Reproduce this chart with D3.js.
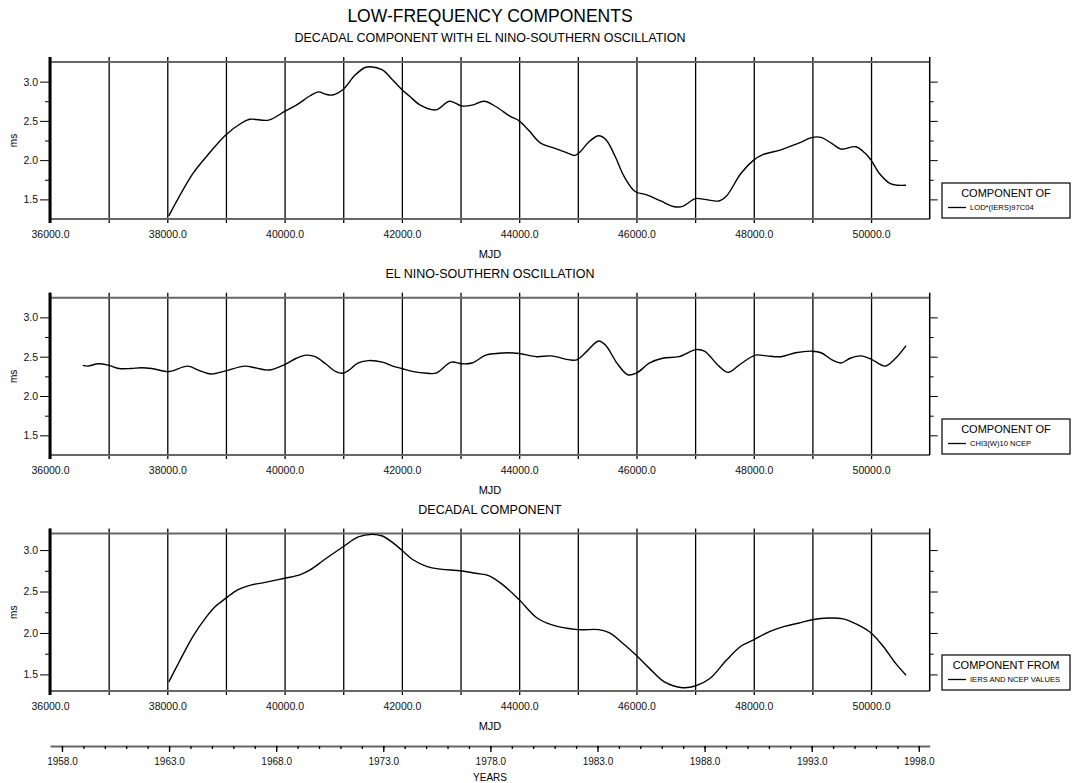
<!DOCTYPE html>
<html>
<head>
<meta charset="utf-8">
<script src="https://cdn.jsdelivr.net/npm/d3@7"></script>
<style>
  body { margin: 0; background: #fff; }
  svg { font-family: "Liberation Sans", Arial, sans-serif; }
  .tick text { fill: #111; }
</style>
</head>
<body>
<svg id="chart" width="1072" height="783"></svg>
<script>
// LOD*(IERS)97C04 : decadal + ENSO
var lodMjd = [38026, 38438, 38673, 38996, 39260, 39407, 39730, 40000, 40200, 40435,
  40581, 40699, 40816, 40998, 41198, 41374, 41462, 41668, 41844, 41997,
  42138, 42314, 42579, 42814, 43020, 43196, 43401, 43607, 43842, 44000,
  44174, 44361, 44609, 44827, 44951, 45045, 45200, 45355, 45480, 45635,
  45791, 45977, 46164, 46413, 46630, 46786, 47003, 47158, 47407, 47532,
  47780, 47998, 48154, 48464, 48775, 48999, 49148, 49335, 49490, 49739,
  49895, 50000, 50143, 50330, 50454, 50597];
var lodMs = [1.29, 1.83, 2.05, 2.32, 2.47, 2.52, 2.51, 2.62, 2.70, 2.82,
  2.87, 2.84, 2.83, 2.90, 3.08, 3.18, 3.19, 3.15, 3.02, 2.90,
  2.81, 2.70, 2.64, 2.75, 2.69, 2.70, 2.75, 2.68, 2.56, 2.50,
  2.37, 2.22, 2.15, 2.09, 2.06, 2.11, 2.24, 2.31, 2.26, 2.05,
  1.79, 1.60, 1.56, 1.48, 1.41, 1.41, 1.51, 1.50, 1.48, 1.54,
  1.83, 2.00, 2.07, 2.13, 2.22, 2.29, 2.29, 2.21, 2.14, 2.17,
  2.09, 2.00, 1.83, 1.70, 1.68, 1.68];

// CHI3(W)10 NCEP : El Nino-Southern Oscillation
var ensoMjd = [36558, 36646, 36822, 37004, 37175, 37380, 37557, 37733, 38003, 38085,
  38350, 38526, 38743, 38996, 39319, 39495, 39730, 40000, 40200, 40376,
  40523, 40699, 40875, 40998, 41081, 41257, 41433, 41668, 41844, 41997,
  42197, 42432, 42579, 42843, 43020, 43196, 43431, 43607, 43812, 44000,
  44298, 44547, 44858, 44982, 45169, 45355, 45480, 45666, 45853, 45996,
  46226, 46444, 46723, 47016, 47158, 47407, 47563, 47780, 48029, 48215,
  48464, 48713, 48999, 49148, 49335, 49490, 49646, 49832, 50000, 50236,
  50392, 50597];
var ensoMs = [2.39, 2.38, 2.41, 2.39, 2.35, 2.35, 2.36, 2.35, 2.31, 2.32,
  2.38, 2.33, 2.28, 2.32, 2.38, 2.36, 2.33, 2.40, 2.48, 2.52,
  2.50, 2.41, 2.31, 2.29, 2.32, 2.42, 2.45, 2.43, 2.38, 2.35,
  2.31, 2.29, 2.29, 2.43, 2.41, 2.42, 2.52, 2.54, 2.55, 2.54,
  2.50, 2.51, 2.46, 2.46, 2.58, 2.70, 2.64, 2.42, 2.27, 2.29,
  2.42, 2.48, 2.50, 2.59, 2.57, 2.38, 2.30, 2.41, 2.52, 2.51,
  2.50, 2.55, 2.57, 2.55, 2.46, 2.42, 2.48, 2.51, 2.47, 2.38,
  2.46, 2.64];

// decadal component from IERS and NCEP values
var decMjd = [38026, 38202, 38438, 38673, 38819, 39001, 39200, 39436, 39670, 40000,
  40259, 40435, 40670, 40998, 41257, 41492, 41668, 41844, 41997, 42197,
  42432, 42667, 43002, 43254, 43489, 43724, 44000, 44305, 44547, 44995,
  45355, 45542, 45791, 45996, 46226, 46475, 46786, 47003, 47252, 47532,
  47780, 48004, 48278, 48526, 48775, 48999, 49272, 49521, 49770, 50000,
  50205, 50423, 50597];
var decMs = [1.41, 1.65, 1.96, 2.20, 2.32, 2.42, 2.52, 2.58, 2.61, 2.66,
  2.70, 2.76, 2.88, 3.04, 3.16, 3.19, 3.17, 3.09, 3.00, 2.88,
  2.80, 2.77, 2.75, 2.72, 2.69, 2.58, 2.40, 2.18, 2.10, 2.04,
  2.04, 2.00, 1.86, 1.73, 1.57, 1.41, 1.34, 1.36, 1.45, 1.67,
  1.84, 1.92, 2.02, 2.08, 2.12, 2.16, 2.18, 2.17, 2.10, 2.00,
  1.84, 1.63, 1.49];

var panelTitles = ["DECADAL COMPONENT WITH EL NINO-SOUTHERN OSCILLATION",
  "EL NINO-SOUTHERN OSCILLATION", "DECADAL COMPONENT"];
var legendTitles = ["COMPONENT OF", "COMPONENT OF", "COMPONENT FROM"];
var legendLabels = ["LOD*(IERS)97C04", "CHI3(W)10 NCEP", "IERS AND NCEP VALUES"];
var mjdTicks = d3.range(36000, 51000, 1000);
var msMajor = [1.5, 2.0, 2.5, 3.0];
var msMinor = [1.75, 2.25, 2.75];
var yearMajor = d3.range(1958, 1999, 5);
var yearMinor = d3.range(1958, 1999, 1);

var X0 = 50, X1 = 929.7;
var svg = d3.select("#chart");

var x = d3.scaleLinear().domain([36000, 51000]).range([X0, X1]);

var panels = [
  {top: 62, bottom: 219, dom: [1.25, 3.25], mjd: lodMjd, ms: lodMs},
  {top: 297.7, bottom: 455, dom: [1.25, 3.25], mjd: ensoMjd, ms: ensoMs},
  {top: 533.5, bottom: 691, dom: [1.3, 3.2], mjd: decMjd, ms: decMs}
];

svg.append("text")
    .attr("x", 490).attr("y", 21.5)
    .attr("text-anchor", "middle")
    .style("font-size", "17.5px")
    .text("LOW-FREQUENCY COMPONENTS");

panels.forEach(function(p, i) {
  var y = d3.scaleLinear().domain(p.dom).range([p.bottom, p.top]);
  var h = p.bottom - p.top;
  var g = svg.append("g");

  g.append("text")
      .attr("x", 490).attr("y", p.top - 20)
      .attr("text-anchor", "middle")
      .style("font-size", "12.5px")
      .text(panelTitles[i]);

  // vertical grid lines at every 1000 MJD
  var grid = g.append("g")
      .attr("transform", "translate(0," + p.bottom + ")")
      .call(d3.axisBottom(x).tickValues(mjdTicks).tickSize(-(h + 5)).tickFormat(""));
  grid.select(".domain").remove();
  grid.selectAll("line").attr("stroke", "#000").attr("stroke-width", 1.3);

  // bottom ticks + labels
  var xa = g.append("g")
      .attr("transform", "translate(0," + p.bottom + ")")
      .call(d3.axisBottom(x).tickValues(mjdTicks).tickSize(4).tickPadding(8)
        .tickFormat(function(d) { return d % 2000 === 0 ? d3.format(".1f")(d) : ""; }));
  xa.select(".domain").remove();
  xa.selectAll("line").attr("stroke-width", 1.3);
  xa.selectAll("text").style("font-size", "10.5px").style("font-family", "Liberation Sans, Arial, sans-serif");

  // top and bottom borders
  g.append("line").attr("x1", X0).attr("x2", X1).attr("y1", p.top).attr("y2", p.top)
      .attr("stroke", "#666").attr("stroke-width", 2);
  g.append("line").attr("x1", X0).attr("x2", X1).attr("y1", p.bottom).attr("y2", p.bottom)
      .attr("stroke", "#666").attr("stroke-width", 2);

  // left axis
  var la = g.append("g")
      .attr("transform", "translate(" + X0 + ",0)")
      .call(d3.axisLeft(y).tickValues(msMajor).tickSize(10).tickPadding(2).tickFormat(d3.format(".1f")));
  la.select(".domain").remove();
  la.selectAll("text").style("font-size", "10.5px").style("font-family", "Liberation Sans, Arial, sans-serif");
  var lm = g.append("g")
      .attr("transform", "translate(" + X0 + ",0)")
      .call(d3.axisLeft(y).tickValues(msMinor).tickSize(5).tickFormat(""));
  lm.select(".domain").remove();
  g.append("line").attr("x1", X0).attr("x2", X0).attr("y1", p.top - 5).attr("y2", p.bottom + 4)
      .attr("stroke", "#000").attr("stroke-width", 3);

  // right axis
  var ra = g.append("g")
      .attr("transform", "translate(" + X1 + ",0)")
      .call(d3.axisRight(y).tickValues(msMajor).tickSize(8).tickFormat(""));
  ra.select(".domain").remove();
  var rm = g.append("g")
      .attr("transform", "translate(" + X1 + ",0)")
      .call(d3.axisRight(y).tickValues(msMinor).tickSize(4).tickFormat(""));
  rm.select(".domain").remove();
  g.append("line").attr("x1", X1).attr("x2", X1).attr("y1", p.top - 5).attr("y2", p.bottom)
      .attr("stroke", "#000").attr("stroke-width", 1.5);

  g.append("text")
      .attr("transform", "translate(17," + (p.top + h / 2) + ") rotate(-90)")
      .attr("text-anchor", "middle")
      .style("font-size", "10px")
      .text("ms");

  g.append("text")
      .attr("x", 490).attr("y", p.bottom + 38.5)
      .attr("text-anchor", "middle")
      .style("font-size", "11px")
      .text("MJD");

  // the curve
  var pts = p.mjd.map(function(m, k) { return [m, p.ms[k]]; });
  var line = d3.line()
      .x(function(d) { return x(d[0]); })
      .y(function(d) { return y(d[1]); })
      .curve(d3.curveCatmullRom.alpha(0.5));
  g.append("path")
      .datum(pts)
      .attr("fill", "none")
      .attr("stroke", "#000")
      .attr("stroke-width", 1.4)
      .attr("d", line);

  // legend box
  var bx = 942, bw = 128, by = p.bottom - 36, bh = 35;
  g.append("rect").attr("x", bx).attr("y", by).attr("width", bw).attr("height", bh)
      .attr("fill", "#fff").attr("stroke", "#000").attr("stroke-width", 1.2);
  g.append("text")
      .attr("x", bx + bw / 2).attr("y", by + 14)
      .attr("text-anchor", "middle")
      .style("font-size", "11px")
      .text(legendTitles[i]);
  g.append("line").attr("x1", bx + 6).attr("x2", bx + 24).attr("y1", by + 24.5).attr("y2", by + 24.5)
      .attr("stroke", "#000").attr("stroke-width", 1.3);
  g.append("text")
      .attr("x", bx + 28).attr("y", by + 27.3)
      .style("font-size", "7.6px")
      .text(legendLabels[i]);
});

// calendar year axis under the last panel
var yearOf = function(m) { return 1958 + (m - 36204) / 365.25; };
var yx = d3.scaleLinear().domain([yearOf(36000), yearOf(51000)]).range([X0, X1]);
var ya = svg.append("g")
    .attr("transform", "translate(0,746)")
    .call(d3.axisBottom(yx).tickValues(yearMajor).tickSize(6).tickSizeOuter(0).tickPadding(6)
      .tickFormat(d3.format(".1f")));
ya.select(".domain").attr("stroke", "#666").attr("stroke-width", 2);
ya.selectAll("line").attr("stroke-width", 1.3);
ya.selectAll("text").style("font-size", "10px").style("font-family", "Liberation Sans, Arial, sans-serif");
var ym = svg.append("g")
    .attr("transform", "translate(0,746)")
    .call(d3.axisBottom(yx).tickValues(yearMinor).tickSize(3).tickFormat(""));
ym.select(".domain").remove();
ym.selectAll("line").attr("stroke-width", 1.3);

svg.append("text")
    .attr("x", 490).attr("y", 780.5)
    .attr("text-anchor", "middle")
    .style("font-size", "10px")
    .text("YEARS");
</script>
</body>
</html>
